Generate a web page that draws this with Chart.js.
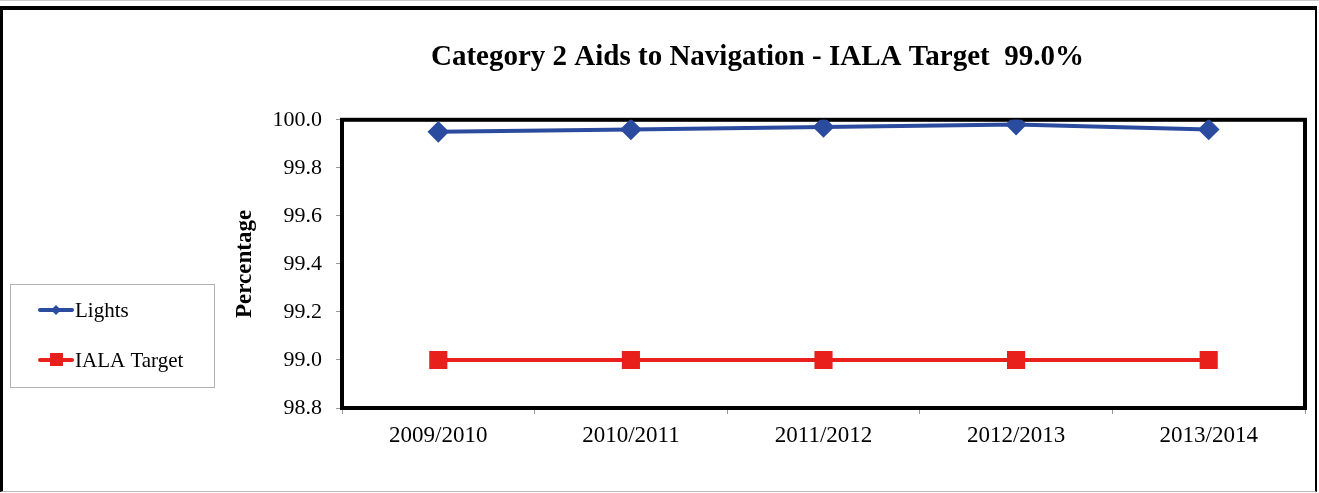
<!DOCTYPE html>
<html>
<head>
<meta charset="utf-8">
<script src="https://cdn.jsdelivr.net/npm/chart.js@4.4.0/dist/chart.umd.min.js"></script>
<style>
  html, body { margin: 0; padding: 0; background: #fff; }
  #frame { position: absolute; left: 0; top: 6px; width: 1312px; height: 481px;
           border-top: 4px solid #000; border-left: 3px solid #000; border-right: 2px solid #000; border-bottom: 1px solid #bbb; }
  #topline { position: absolute; left: 0; top: 0; width: 1319px; height: 1px; background: #ccc; }
  #wrap { position: absolute; left: 0; top: 0; width: 1319px; height: 493px; }
</style>
</head>
<body>
<div id="topline"></div>
<div id="frame"></div>
<div id="wrap"><canvas id="c" width="1319" height="493"></canvas></div>
<script>
const categories = ["2009/2010", "2010/2011", "2011/2012", "2012/2013", "2013/2014"];
const lightsValues = [99.95, 99.96, 99.97, 99.98, 99.96];
const targetValues = [99.0, 99.0, 99.0, 99.0, 99.0];
const seriesNames = ["Lights", "IALA Target"];
const chartTitle = "Category 2 Aids to Navigation - IALA Target  99.0%";
const yAxisTitle = "Percentage";

const FONT = "'Liberation Serif', 'Times New Roman', serif";

const plotBorder = {
  id: 'plotBorder',
  beforeDatasetsDraw(chart) {
    const a = chart.chartArea, ctx = chart.ctx;
    ctx.save();
    ctx.strokeStyle = '#000';
    ctx.lineWidth = 4;
    ctx.strokeRect(a.left, a.top, a.right - a.left, a.bottom - a.top);
    ctx.restore();
  }
};

const customLegend = {
  id: 'customLegend',
  afterDraw(chart) {
    const ctx = chart.ctx;
    ctx.save();
    ctx.strokeStyle = '#b0b0b0';
    ctx.lineWidth = 1;
    ctx.strokeRect(10.5, 284.5, 204, 103);
    const rows = [310, 360];
    chart.data.datasets.forEach((ds, i) => {
      const y = rows[i];
      ctx.strokeStyle = ds.borderColor;
      ctx.lineWidth = 4;
      ctx.lineCap = 'round';
      ctx.beginPath(); ctx.moveTo(40, y); ctx.lineTo(72, y); ctx.stroke();
      ctx.fillStyle = ds.backgroundColor;
      if (ds.pointStyle === 'rectRot') {
        ctx.beginPath(); ctx.moveTo(56, y - 5); ctx.lineTo(61, y); ctx.lineTo(56, y + 5); ctx.lineTo(51, y); ctx.closePath(); ctx.fill();
      } else {
        ctx.fillRect(50, y - 7, 13, 13);
      }
      ctx.fillStyle = '#000';
      ctx.font = "21px " + FONT;
      ctx.textBaseline = 'middle';
      ctx.textAlign = 'left';
      ctx.fillText(ds.label, 75, y + 1);
    });
    ctx.restore();
  }
};

new Chart(document.getElementById('c'), {
  type: 'line',
  data: {
    labels: categories,
    datasets: [
      { label: seriesNames[0], data: lightsValues, borderColor: '#2B4C9E', backgroundColor: '#2B4C9E',
        borderWidth: 4, pointStyle: 'rectRot', pointRadius: 8, pointHoverRadius: 8, tension: 0 },
      { label: seriesNames[1], data: targetValues, borderColor: '#E8201C', backgroundColor: '#E8201C',
        borderWidth: 4, pointStyle: 'rect', pointRadius: 10, pointHoverRadius: 10, tension: 0 }
    ]
  },
  options: {
    responsive: false,
    animation: false,
    events: [],
    layout: { padding: { left: 210, right: 14, top: 0, bottom: 0 } },
    plugins: {
      legend: { display: false },
      tooltip: { enabled: false },
      title: {
        display: true, text: chartTitle, color: '#000',
        font: { family: FONT, size: 29, weight: 'bold' },
        padding: { top: 40, bottom: 45 }
      }
    },
    scales: {
      x: {
        offset: true,
        grid: { offset: true, drawOnChartArea: false, tickLength: 6, color: '#999' },
        border: { display: false },
        ticks: { color: '#000', font: { family: FONT, size: 23 }, padding: 8, maxRotation: 0 },
        afterFit(s) { s.height = 85; }
      },
      y: {
        min: 98.8, max: 100.0,
        grid: { drawOnChartArea: false, tickLength: 6, color: '#999' },
        border: { display: false },
        ticks: { stepSize: 0.2, color: '#000', font: { family: FONT, size: 22 }, padding: 14,
                 callback: v => Number(v).toFixed(1) },
        title: { display: true, text: yAxisTitle, color: '#000', font: { family: FONT, size: 23, weight: 'bold' }, padding: { top: 21, bottom: 0 } },
        afterFit(s) { s.width = 132; }
      }
    }
  },
  plugins: [plotBorder, customLegend]
});
</script>
</body>
</html>
